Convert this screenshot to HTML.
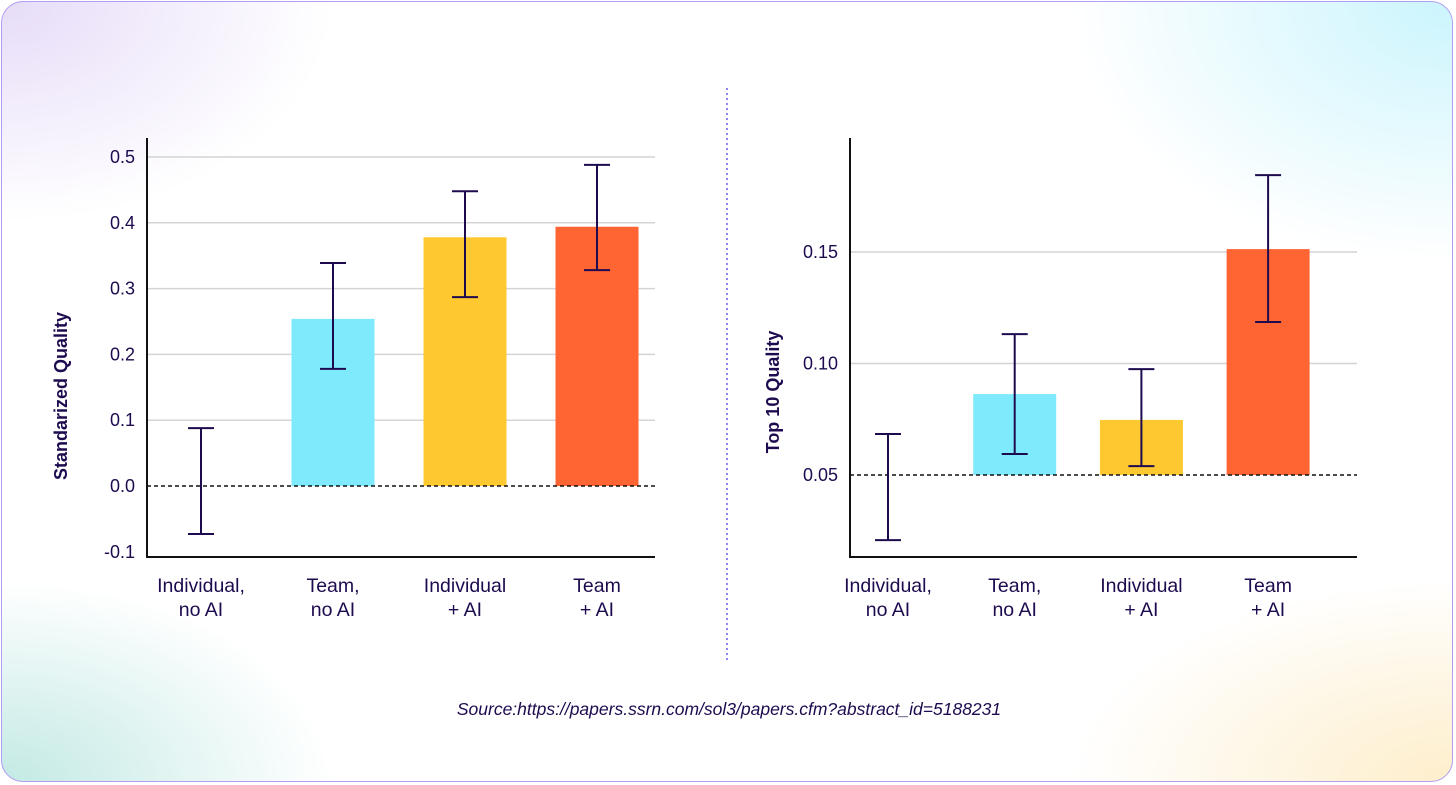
<!DOCTYPE html>
<html><head><meta charset="utf-8"><style>
html,body{margin:0;padding:0;width:1456px;height:785px;overflow:hidden;background:#fff;}
#frame{position:absolute;left:1px;top:1px;width:1452px;height:781px;border:1.5px solid #b49cf0;border-radius:22px;box-sizing:border-box;overflow:hidden;
background:
radial-gradient(ellipse 330px 220px at 0% 0%, rgba(220,205,245,0.7), rgba(255,255,255,0) 100%),
radial-gradient(ellipse 380px 260px at 100% 0%, rgba(190,242,252,0.8), rgba(255,255,255,0) 100%),
radial-gradient(ellipse 330px 200px at 0% 100%, rgba(180,228,222,0.8), rgba(255,255,255,0) 100%),
radial-gradient(ellipse 380px 200px at 100% 100%, rgba(253,234,190,0.8), rgba(255,255,255,0) 100%),#fff;}
svg{position:absolute;left:0;top:0;}
text{font-family:"Liberation Sans",sans-serif;fill:#1e0b4f;}
</style></head><body>
<div id="frame"></div>
<svg id="s" width="1456" height="785">
<line x1="727" y1="88" x2="727" y2="662" stroke="#6a5cf0" stroke-width="1.5" stroke-dasharray="2,3"/>
<text x="729" y="715" text-anchor="middle" font-size="17.5" font-style="italic">Source:https://papers.ssrn.com/sol3/papers.cfm?abstract_id=5188231</text>
</svg>
<script>
const categories=[["Individual,","no AI"],["Team,","no AI"],["Individual","+ AI"],["Team","+ AI"]];
const colors=["none","#7eeafb","#fdc830","#ff6433"];
const leftValues=[0,0.254,0.378,0.394];
const leftHigh=[0.088,0.339,0.448,0.488];
const leftLow=[-0.073,0.178,0.287,0.328];
const leftTicks=[-0.1,0.0,0.1,0.2,0.3,0.4,0.5];
const leftTickLabels=["-0.1","0.0","0.1","0.2","0.3","0.4","0.5"];
const rightValues=[0.05,0.0863,0.0747,0.1513];
const rightHigh=[0.0684,0.1132,0.0975,0.1845];
const rightLow=[0.0208,0.0594,0.054,0.1186];
const rightTicks=[0.05,0.10,0.15];
const rightTickLabels=["0.05","0.10","0.15"];
const NS="http://www.w3.org/2000/svg";
const svg=document.getElementById('s');
function mk(t,a){const e=document.createElementNS(NS,t);for(const k in a)e.setAttribute(k,a[k]);svg.appendChild(e);return e;}
function chart(o){
  const y=v=>o.y0-(v-o.base)*o.scale;
  const x=i=>o.c0+i*o.step;
  o.ticks.forEach((t,i)=>{
    if(t>o.base&&y(t)>o.top){const g=mk('line',{x1:o.ax,x2:o.right,y1:y(t),y2:y(t),stroke:'#d4d4d4','stroke-width':1.5});
    
    }
    const l=mk('text',{x:o.ax-12,y:y(t)+6,'text-anchor':'end','font-size':18});l.textContent=o.labels[i];
    
    
  });
  o.vals.forEach((v,i)=>{
    if(colors[i]!=='none'){const b=mk('rect',{x:x(i)-41.5,width:83,y:y(v),height:y(o.base)-y(v),fill:colors[i]});
    
    }
  });
  const z=mk('line',{x1:o.ax,x2:o.right,y1:y(o.base),y2:y(o.base),stroke:'#111','stroke-width':1.5,'stroke-dasharray':'4,3'});
  
  
  o.vals.forEach((v,i)=>{
    const g=document.createElementNS(NS,'g');svg.appendChild(g);
    
    
    [[x(i),y(o.hi[i]),x(i),y(o.lo[i])],[x(i)-13,y(o.hi[i]),x(i)+13,y(o.hi[i])],[x(i)-13,y(o.lo[i]),x(i)+13,y(o.lo[i])]].forEach(p=>{
      const l=document.createElementNS(NS,'line');l.setAttribute('x1',p[0]);l.setAttribute('y1',p[1]);l.setAttribute('x2',p[2]);l.setAttribute('y2',p[3]);
      l.setAttribute('stroke','#1e0b4f');l.setAttribute('stroke-width','2');g.appendChild(l);});
    categories[i].forEach((s,k)=>{const t=mk('text',{x:x(i),y:592+k*24,'text-anchor':'middle','font-size':19.5});t.textContent=s;
      
      });
  });
  const a=mk('path',{d:`M${o.ax} ${o.top} V${o.bottom} H${o.right}`,fill:'none',stroke:'#111','stroke-width':2});
  
  
  const t=mk('text',{x:0,y:0,'text-anchor':'middle','font-size':18,'font-weight':'bold',transform:`translate(${o.tx},${o.ty}) rotate(-90)`});t.textContent=o.title;
  
  
}
chart({name:'left',vals:leftValues,hi:leftHigh,lo:leftLow,ticks:leftTicks,labels:leftTickLabels,base:0,y0:486,scale:658,ax:147,right:655,top:138,bottom:557,c0:201,step:132,title:'Standarized Quality',tx:67,ty:396});
chart({name:'right',vals:rightValues,hi:rightHigh,lo:rightLow,ticks:rightTicks,labels:rightTickLabels,base:0.05,y0:475,scale:2230,ax:850,right:1357,top:138,bottom:557,c0:888,step:126.7,title:'Top 10 Quality',tx:779,ty:392});
</script>
</body></html>
